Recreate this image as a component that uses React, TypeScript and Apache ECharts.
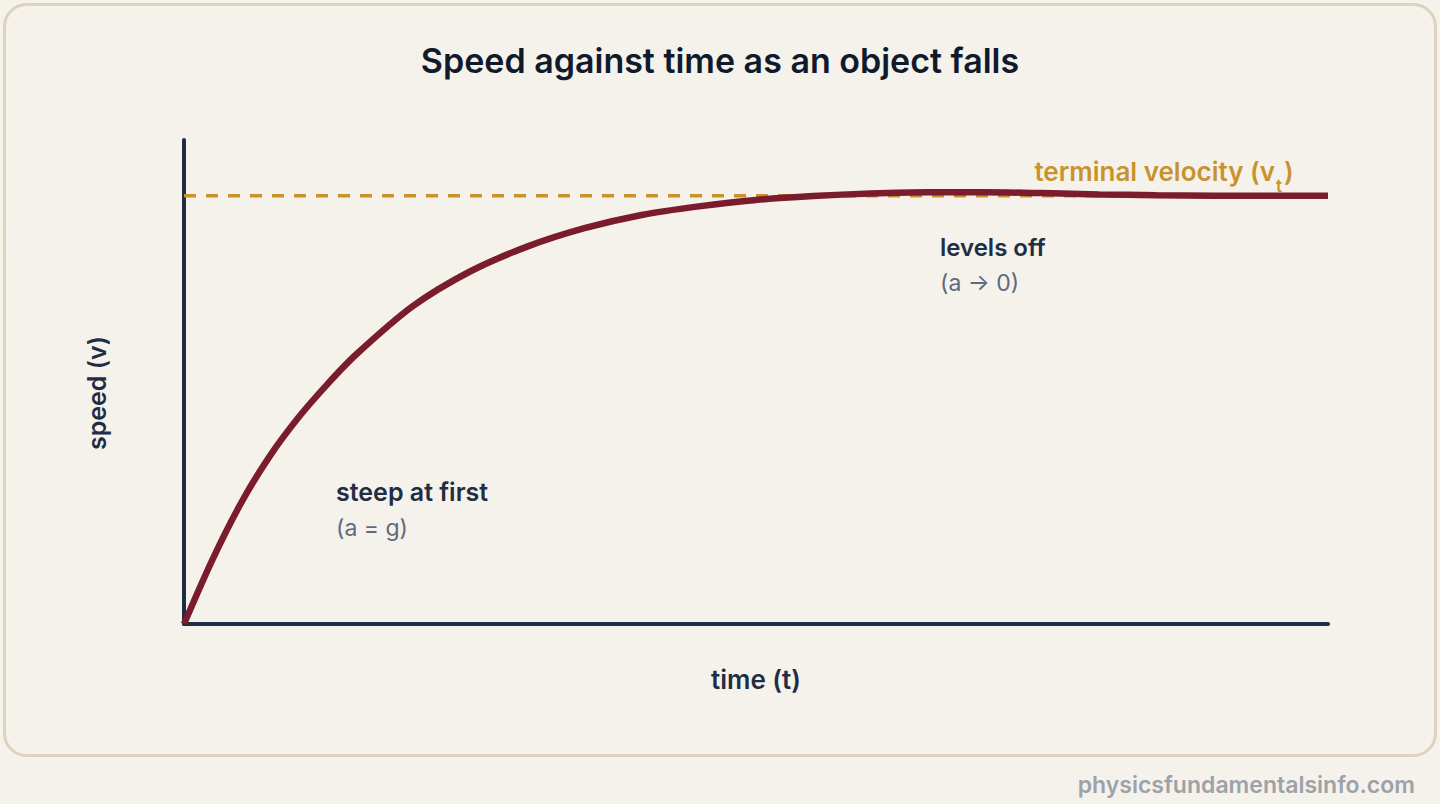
import React, { useEffect, useRef } from "react";
import * as echarts from "echarts";

// time (normalised, 0..10) and speed as a fraction of terminal velocity
const timeValues = [0, 0.25, 0.5, 0.75, 1.0, 1.25, 1.5, 2.0, 2.5, 3.0, 3.5, 4.0, 4.5, 5.0, 5.5, 6.0, 6.5, 7.0, 7.5, 8.0, 8.5, 9.0, 9.5, 10];
const speedValues = [0, 0.151, 0.283, 0.392, 0.482, 0.559, 0.628, 0.742, 0.823, 0.881, 0.924, 0.955, 0.975, 0.99, 0.999, 1.005, 1.008, 1.008, 1.006, 1.003, 1.001, 1.0, 1.0, 1.0];
const terminalVelocity = 1;
const timeRange = [0, 10];
const speedRange = [0, 1.13];

const TITLE = "Speed against time as an object falls";
const X_NAME = "time (t)";
const Y_NAME = "speed (v)";
const ANNOTATIONS = {
  steep: ["steep at first", "(a = g)"],
  level: ["levels off", "(a \u2192 0)"],
};
const WATERMARK = "physicsfundamentalsinfo.com";

const FONT = "Inter, 'Noto Sans', sans-serif";
const NAVY = "#1f2d45";
const GOLD = "#c9922c";
const MAROON = "#7a1c2b";
const SLATE = "#5d6a80";
const BG = "#f4f2ea";

export default function App() {
  const ref = useRef<HTMLDivElement>(null);

  useEffect(() => {
    document.body.style.margin = "0";
    document.body.style.background = BG;
    if (!ref.current) return;
    const chart = echarts.init(ref.current, undefined, { renderer: "svg" });

    const curve = timeValues.map((t, i) => [t, speedValues[i]]);
    const vtLine = [
      [timeRange[0], terminalVelocity],
      [timeRange[1], terminalVelocity],
    ];

    const txt = (x: number, y: number, text: string, size: number, weight: number, fill: string, align = "left", extra: any = {}) => ({
      type: "text",
      x,
      y,
      z: 10,
      ...extra,
      style: { text, fontFamily: FONT, fontSize: size, fontWeight: weight, fill, align, verticalAlign: "middle" },
    });

    chart.setOption({
      animation: false,
      backgroundColor: BG,
      grid: { left: 184, right: 112, top: 140, bottom: 180, containLabel: false },
      xAxis: {
        type: "value",
        min: timeRange[0],
        max: timeRange[1],
        name: X_NAME,
        nameLocation: "middle",
        nameGap: 42,
        nameTextStyle: { fontFamily: FONT, fontSize: 26, fontWeight: 600, color: NAVY },
        axisLine: { show: true, lineStyle: { color: NAVY, width: 4 } },
        axisTick: { show: false },
        axisLabel: { show: false },
        splitLine: { show: false },
      },
      yAxis: {
        type: "value",
        min: speedRange[0],
        max: speedRange[1],
        axisLine: { show: true, lineStyle: { color: NAVY, width: 4 } },
        axisTick: { show: false },
        axisLabel: { show: false },
        splitLine: { show: false },
      },
      series: [
        {
          type: "line",
          data: vtLine,
          showSymbol: false,
          symbol: "none",
          silent: true,
          z: 1,
          lineStyle: { color: GOLD, width: 3.5, type: [12, 10] },
        },
        {
          type: "line",
          data: curve,
          smooth: 0.3,
          showSymbol: false,
          symbol: "none",
          z: 3,
          lineStyle: { color: MAROON, width: 6.5 },
        },
      ],
      graphic: [
        {
          type: "rect",
          z: -10,
          silent: true,
          shape: { x: 4.5, y: 4.5, width: 1431, height: 751, r: 22 },
          style: { fill: BG, stroke: "#ddd3bc", lineWidth: 3 },
        },
        txt(720, 60, TITLE, 34, 600, "#111a2c", "center"),
        txt(97, 393, Y_NAME, 25, 600, NAVY, "center", { rotation: Math.PI / 2 }),
        txt(1275, 171, "terminal velocity (v", 26, 600, GOLD, "right"),
        txt(1276, 186, "t", 17, 600, GOLD, "left"),
        txt(1284, 171, ")", 26, 600, GOLD, "left"),
        txt(940, 247, ANNOTATIONS.level[0], 24, 600, NAVY),
        txt(940, 283, ANNOTATIONS.level[1], 23, 400, SLATE),
        txt(336, 492, ANNOTATIONS.steep[0], 25, 600, NAVY),
        txt(336, 528, ANNOTATIONS.steep[1], 23, 400, SLATE),
        txt(1415, 785, WATERMARK, 23, 600, "#9da2aa", "right"),
      ],
    });

    return () => chart.dispose();
  }, []);

  return <div ref={ref} style={{ width: 1440, height: 804 }} />;
}
